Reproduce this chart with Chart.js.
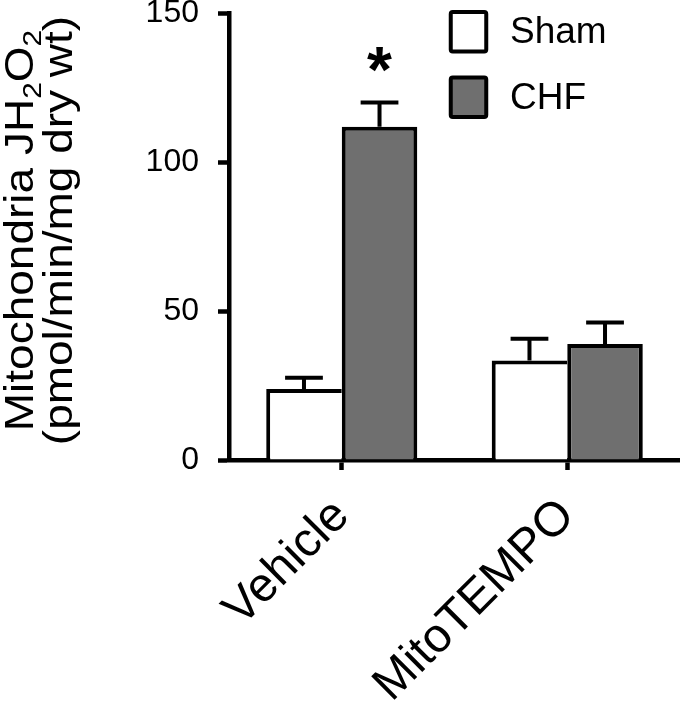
<!DOCTYPE html>
<html>
<head>
<meta charset="utf-8">
<script src="https://cdn.jsdelivr.net/npm/chart.js@4.4.0/dist/chart.umd.min.js"></script>
<style>
  html, body { margin: 0; padding: 0; background: #fff; }
  #wrap { width: 680px; height: 706px; }
</style>
</head>
<body>
<div id="wrap"><canvas id="chart" width="680" height="706"></canvas></div>
<script>
// values
const categories = ['Vehicle', 'MitoTEMPO'];
const seriesNames = ['Sham', 'CHF'];
const shamMean = [23.8, 33.4];
const shamErr = [3.8, 7.3];
const chfMean = [111.8, 38.9];
const chfErr = [8.2, 7.2];
const chfMarks = ['*', ''];
const yTicks = [0, 50, 100, 150];

const FONT = "'Liberation Sans', Arial, Helvetica, sans-serif";

// error bars (upper only) + significance marks
const errorBars = {
  id: 'errorBars',
  afterDatasetsDraw(chart) {
    const ctx = chart.ctx;
    const y = chart.scales.y;
    ctx.save();
    ctx.strokeStyle = '#000';
    ctx.lineWidth = 4;
    chart.data.datasets.forEach((ds, di) => {
      chart.getDatasetMeta(di).data.forEach((bar, i) => {
        const top = y.getPixelForValue(ds.data[i]);
        const cap = y.getPixelForValue(ds.data[i] + ds.errors[i]);
        const half = bar.width / 4;
        ctx.beginPath();
        ctx.moveTo(bar.x, top);
        ctx.lineTo(bar.x, cap);
        ctx.moveTo(bar.x - half, cap);
        ctx.lineTo(bar.x + half, cap);
        ctx.stroke();
        if (ds.marks && ds.marks[i]) {
          ctx.fillStyle = '#000';
          ctx.font = 'bold 64px ' + FONT;
          ctx.textAlign = 'center';
          ctx.textBaseline = 'alphabetic';
          ctx.fillText(ds.marks[i], bar.x, cap - 10);
        }
      });
    });
    ctx.restore();
  }
};

// y axis title, two lines, with subscripts
const yTitle = {
  id: 'yTitle',
  afterDraw(chart) {
    const ctx = chart.ctx;
    const size = 40;
    const sub = Math.round(size * 0.65);
    const cy = (chart.chartArea.top + chart.chartArea.bottom) / 2 - 6;
    ctx.save();
    ctx.translate(0, cy);
    ctx.rotate(-Math.PI / 2);
    ctx.scale(1.15, 1);
    ctx.fillStyle = '#000';
    ctx.textBaseline = 'alphabetic';
    ctx.textAlign = 'left';
    const parts = [['Mitochondria JH', false], ['2', true], ['O', false], ['2', true]];
    let total = 0;
    parts.forEach(p => {
      ctx.font = (p[1] ? sub : size) + 'px ' + FONT;
      total += ctx.measureText(p[0]).width;
    });
    let x = -total / 2;
    parts.forEach(p => {
      ctx.font = (p[1] ? sub : size) + 'px ' + FONT;
      ctx.fillText(p[0], x, p[1] ? 33 + size * 0.2 : 33);
      x += ctx.measureText(p[0]).width;
    });
    ctx.font = size + 'px ' + FONT;
    ctx.textAlign = 'center';
    ctx.fillText('(pmol/min/mg dry wt)', 0, 72);
    ctx.restore();
  }
};

// legend boxes in the top right corner
const boxLegend = {
  id: 'boxLegend',
  afterDraw(chart) {
    const ctx = chart.ctx;
    ctx.save();
    chart.data.datasets.forEach((ds, i) => {
      const top = 12 + i * 65.5;
      ctx.beginPath();
      ctx.roundRect(450.75, top, 35.5, 39.5, 2);
      ctx.fillStyle = ds.backgroundColor;
      ctx.fill();
      ctx.lineWidth = 4;
      ctx.strokeStyle = '#000';
      ctx.stroke();
      ctx.fillStyle = '#000';
      ctx.font = '37px ' + FONT;
      ctx.textAlign = 'left';
      ctx.textBaseline = 'middle';
      ctx.fillText(ds.label, 510, top + 21);
    });
    ctx.restore();
  }
};

new Chart(document.getElementById('chart'), {
  type: 'bar',
  data: {
    labels: categories,
    datasets: [
      {
        label: seriesNames[0],
        data: shamMean,
        errors: shamErr,
        backgroundColor: '#ffffff',
        borderColor: '#000',
        borderWidth: { top: 4, left: 4, right: 0, bottom: 0 },
        borderSkipped: 'start'
      },
      {
        label: seriesNames[1],
        data: chfMean,
        errors: chfErr,
        marks: chfMarks,
        backgroundColor: '#6f6f6f',
        borderColor: '#000',
        borderWidth: { top: 4, left: 4, right: 4, bottom: 0 },
        borderSkipped: 'start'
      }
    ]
  },
  options: {
    responsive: false,
    animation: false,
    devicePixelRatio: 1,
    events: [],
    layout: { padding: { top: 13, right: 0, left: 0, bottom: 0 } },
    plugins: {
      legend: { display: false },
      tooltip: { enabled: false }
    },
    datasets: {
      bar: { categoryPercentage: 0.67, barPercentage: 1 }
    },
    scales: {
      x: {
        afterFit(s) { s.height = 246; s.paddingLeft = 0; s.paddingRight = 0; },
        border: { display: true, color: '#000', width: 4.5 },
        grid: { drawOnChartArea: false, offset: false, tickLength: 10, tickWidth: 4.5, tickColor: '#000' },
        ticks: {
          color: '#000',
          font: { family: FONT, size: 48 },
          minRotation: 45,
          maxRotation: 45,
          autoSkip: false,
          padding: 18
        }
      },
      y: {
        min: 0,
        max: 150,
        afterBuildTicks(s) { s.ticks = yTicks.map(v => ({ value: v })); },
        afterFit(s) { s.width = 229; s.paddingTop = 0; s.paddingBottom = 0; },
        border: { display: true, color: '#000', width: 4.5 },
        grid: { drawOnChartArea: false, tickLength: 11, tickWidth: 4.5, tickColor: '#000' },
        ticks: { color: '#000', font: { family: FONT, size: 32 }, padding: 19 }
      }
    }
  },
  plugins: [errorBars, yTitle, boxLegend]
});
</script>
</body>
</html>
